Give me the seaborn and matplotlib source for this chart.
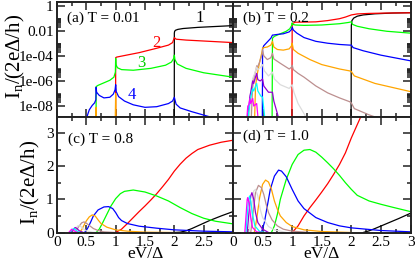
import numpy as np
import matplotlib
matplotlib.use('Agg')
import matplotlib.pyplot as plt
import seaborn as sns
from matplotlib.ticker import FixedLocator, MultipleLocator, NullFormatter, FixedFormatter

# xmgrace-like palette, order n = 1..10
colors = ['#000000', '#ff0000', '#00ff00', '#0000ff', '#ffa500',
          '#bc8f8f', '#dcdcdc', '#9400d3', '#00ffff', '#ff00ff']

# ---------------- (a) T = 0.01, values as log10(I_n)
a1_x = [0, 1.999, 2.0, 2.005, 2.02, 2.06, 2.15, 2.4, 2.7, 3.0]
a1_y = [-10, -10, -2.2, -2.05, -1.97, -1.9, -1.83, -1.74, -1.67, -1.6]
a2_x = [0.999, 1.0, 1.02, 1.4, 1.7, 1.9, 1.97, 2.0, 2.03, 2.2, 2.6, 3.0]
a2_y = [-10, -4.15, -4.1, -3.75, -3.4, -3.15, -2.95, -2.55, -2.68, -2.75, -2.85, -2.95]
a3_x = [0.666, 0.667, 0.7, 0.8, 0.9, 0.97, 0.995, 1.0, 1.005, 1.03, 1.1, 1.3, 1.6, 1.85, 1.95, 1.99, 2.0,
        2.01, 2.05, 2.2, 2.5, 3.0]
a3_y = [-10, -6.45, -6.35, -6.15, -5.95, -5.7, -5.3, -4.2, -4.7, -4.95, -5.1, -5.15, -5.0, -4.75, -4.5, -4.2,
        -3.95, -4.3, -4.65, -5.0, -5.35, -5.7]
a4_x = [0.46, 0.5, 0.55, 0.6, 0.64, 0.662, 0.667, 0.675, 0.72, 0.8, 0.9, 0.96, 0.99, 1.0, 1.01, 1.05, 1.15,
        1.3, 1.5, 1.7, 1.9, 1.97, 2.0, 2.03, 2.1, 2.3, 2.6, 3.0]
a4_y = [-10, -9.0, -8.3, -7.95, -7.75, -7.5, -6.5, -6.9, -7.15, -7.35, -7.3, -7.05, -6.7, -6.3, -6.85, -7.25,
        -7.6, -7.9, -8.1, -8.05, -7.8, -7.6, -7.3, -7.85, -8.15, -8.45, -8.85, -9.2]
a5_x = [0.66, 0.667, 0.675, 0.99, 1.0, 1.01]
a5_y = [-10, -8.1, -10, -10, -7.0, -10]

# ---------------- (b) T = 0.2, values as log10(I_n)
b1_x = [1.995, 2.0, 2.01, 2.04, 2.1, 2.2, 2.4, 2.7, 3.0]
b1_y = [-10, -1.6, -1.2, -1.0, -0.85, -0.75, -0.66, -0.6, -0.57]
b2_x = [0.995, 1.0, 1.01, 1.05, 1.2, 1.4, 1.6, 1.8, 1.9, 2.0, 2.1, 2.3, 2.6, 3.0]
b2_y = [-10, -1.6, -1.42, -1.33, -1.32, -1.3, -1.2, -1.05, -0.92, -0.75, -0.67, -0.63, -0.6, -0.58]
b3_x = [0.66, 0.667, 0.7, 0.8, 0.9, 0.96, 0.99, 1.0, 1.01, 1.05, 1.2, 1.5, 1.8, 1.95, 2.0, 2.02, 2.1, 2.3,
        2.6, 3.0]
b3_y = [-10, -2.6, -2.45, -2.25, -2.05, -1.85, -1.6, -1.38, -1.5, -1.55, -1.58, -1.55, -1.45, -1.35, -1.3,
        -1.5, -1.65, -1.85, -2.05, -2.2]
b4_x = [0.495, 0.5, 0.52, 0.56, 0.6, 0.64, 0.667, 0.68, 0.75, 0.85, 0.95, 0.99, 1.0, 1.02, 1.08, 1.2, 1.4,
        1.6, 1.8, 1.97, 2.0, 2.03, 2.2, 2.5, 3.0]
b4_y = [-10, -3.45, -3.2, -3.0, -2.8, -2.6, -2.35, -2.35, -2.3, -2.25, -2.1, -1.9, -1.72, -1.95, -2.2, -2.55,
        -2.85, -3.0, -3.1, -3.15, -3.15, -3.35, -3.6, -3.95, -4.4]
b5_x = [0.36, 0.38, 0.4, 0.45, 0.49, 0.5, 0.52, 0.58, 0.64, 0.667, 0.69, 0.75, 0.85, 0.95, 0.99, 1.0, 1.02,
        1.1, 1.3, 1.5, 1.8, 1.97, 2.0, 2.05, 2.4, 3.0]
b5_y = [-10, -6.5, -5.7, -4.5, -3.7, -3.4, -3.35, -3.3, -3.15, -2.85, -3.3, -3.5, -3.55, -3.45, -3.2, -3.0,
        -3.5, -3.8, -4.3, -4.7, -5.05, -5.2, -5.25, -5.6, -6.2, -6.85]
b6_x = [0.3, 0.33, 0.36, 0.39, 0.4, 0.41, 0.45, 0.49, 0.5, 0.52, 0.58, 0.64, 0.667, 0.69, 0.8, 0.95, 0.99,
        1.0, 1.02, 1.1, 1.2, 1.4, 1.6, 1.8, 1.97, 2.0, 2.05, 2.3, 2.6]
b6_y = [-10, -6.6, -5.6, -5.1, -4.8, -4.95, -4.5, -3.9, -3.55, -4.0, -4.3, -4.15, -3.8, -4.25, -4.6, -5.05,
        -4.9, -4.75, -5.1, -5.4, -5.7, -6.4, -6.95, -7.35, -7.65, -7.75, -8.2, -8.7, -9.2]
b7_x = [0.27, 0.29, 0.31, 0.333, 0.36, 0.4, 0.42, 0.46, 0.5, 0.53, 0.6, 0.667, 0.7, 0.8, 0.95, 1.0, 1.03,
        1.1, 1.2, 1.3]
b7_y = [-10, -7.5, -6.5, -5.8, -5.5, -4.9, -5.1, -4.95, -4.7, -5.2, -5.6, -5.3, -5.85, -6.3, -6.6, -6.3,
        -6.9, -7.8, -8.6, -9.5]
b8_x = [0.24, 0.26, 0.286, 0.3, 0.333, 0.35, 0.38, 0.4, 0.42, 0.46, 0.5, 0.52, 0.6, 0.667, 0.69, 0.75, 0.8]
b8_y = [-10, -8.5, -7.2, -6.9, -6.0, -6.2, -5.7, -5.4, -5.9, -6.0, -5.85, -6.4, -6.9, -6.9, -7.6, -8.6, -9.5]
b9_x = [0.24, 0.27, 0.286, 0.3, 0.333, 0.35, 0.4, 0.42, 0.47, 0.5, 0.52, 0.55]
b9_y = [-10, -8.3, -7.6, -7.3, -6.6, -6.8, -6.2, -6.8, -7.2, -7.3, -8.2, -9.5]
b10_x = [0.22, 0.24, 0.25, 0.27, 0.286, 0.3, 0.333, 0.35, 0.4, 0.42, 0.45]
b10_y = [-10, -8.6, -8.0, -7.9, -7.4, -7.8, -7.4, -8.0, -7.8, -8.8, -9.8]

# ---------------- (c) T = 0.8
c1_x = [2.0, 2.1, 2.2, 2.3, 2.4, 2.6, 2.8, 3.0]
c1_y = [0, 0.01, 0.05, 0.12, 0.2, 0.36, 0.5, 0.63]
c2_x = [1.0, 1.1, 1.2, 1.3, 1.4, 1.5, 1.6, 1.7, 1.8, 1.9, 2.0, 2.1, 2.2, 2.3, 2.4, 2.6, 2.8, 3.0]
c2_y = [0, 0.1, 0.27, 0.45, 0.63, 0.8, 0.98, 1.17, 1.38, 1.6, 1.85, 2.06, 2.24, 2.38, 2.5, 2.63, 2.72, 2.78]
c3_x = [0.667, 0.72, 0.78, 0.85, 0.92, 1.0, 1.08, 1.15, 1.3, 1.5, 1.7, 1.9, 2.1, 2.3, 2.5, 2.7, 3.0]
c3_y = [0, 0.1, 0.3, 0.55, 0.8, 1.02, 1.17, 1.24, 1.28, 1.22, 1.1, 0.95, 0.75, 0.57, 0.43, 0.34, 0.26]
c4_x = [0.47, 0.52, 0.57, 0.62, 0.7, 0.8, 0.88, 0.95, 1.0, 1.05, 1.1, 1.2, 1.4, 1.7, 2.0, 2.5, 3.0]
c4_y = [0, 0.12, 0.3, 0.5, 0.68, 0.77, 0.78, 0.72, 0.6, 0.45, 0.36, 0.27, 0.19, 0.13, 0.08, 0.04, 0.02]
c5_x = [0.38, 0.42, 0.46, 0.5, 0.55, 0.6, 0.65, 0.7, 0.75, 0.85, 1.0, 1.2, 1.5, 2.0]
c5_y = [0, 0.08, 0.22, 0.35, 0.47, 0.53, 0.5, 0.38, 0.27, 0.16, 0.08, 0.04, 0.01, 0]
c6_x = [0.31, 0.36, 0.42, 0.46, 0.5, 0.56, 0.62, 0.7, 0.8, 1.0]
c6_y = [0, 0.15, 0.29, 0.32, 0.28, 0.2, 0.12, 0.06, 0.02, 0]
c7_x = [0.27, 0.32, 0.36, 0.4, 0.45, 0.5, 0.6, 0.7]
c7_y = [0, 0.12, 0.21, 0.19, 0.11, 0.05, 0.01, 0]
c8_x = [0.24, 0.28, 0.31, 0.34, 0.38, 0.45]
c8_y = [0, 0.1, 0.15, 0.12, 0.05, 0]
c9_x = [0.22, 0.25, 0.28, 0.31, 0.35, 0.4]
c9_y = [0, 0.07, 0.12, 0.09, 0.03, 0]
c10_x = [0.2, 0.23, 0.25, 0.28, 0.32, 0.36]
c10_y = [0, 0.06, 0.1, 0.06, 0.02, 0]

# ---------------- (d) T = 1.0
d1_x = [2.2, 2.3, 2.4, 2.6, 2.8, 3.0]
d1_y = [0, 0.05, 0.12, 0.27, 0.42, 0.58]
d2_x = [1.0, 1.1, 1.2, 1.3, 1.4, 1.5, 1.6, 1.7, 1.8, 1.9, 2.0, 2.1, 2.2]
d2_y = [0, 0.2, 0.5, 0.75, 0.98, 1.22, 1.47, 1.75, 2.05, 2.4, 2.85, 3.25, 3.65]
d3_x = [0.65, 0.7, 0.75, 0.8, 0.9, 1.0, 1.1, 1.2, 1.3, 1.4, 1.5, 1.6, 1.7, 1.8, 1.9, 2.0, 2.1, 2.3, 2.5,
        2.7, 3.0]
d3_y = [0, 0.2, 0.55, 1.0, 1.6, 2.05, 2.35, 2.48, 2.5, 2.42, 2.27, 2.1, 1.92, 1.72, 1.5, 1.3, 1.12, 0.95,
        0.85, 0.76, 0.63]
d4_x = [0.48, 0.53, 0.58, 0.63, 0.7, 0.77, 0.82, 0.9, 1.0, 1.1, 1.2, 1.4, 1.6, 1.8, 2.0, 2.5, 3.0]
d4_y = [0, 0.3, 0.8, 1.3, 1.7, 1.88, 1.85, 1.68, 1.3, 0.95, 0.72, 0.45, 0.3, 0.2, 0.14, 0.06, 0.02]
d5_x = [0.36, 0.4, 0.45, 0.5, 0.55, 0.6, 0.65, 0.7, 0.75, 0.8, 0.9, 1.0, 1.2, 1.5, 2.0]
d5_y = [0, 0.4, 1.05, 1.45, 1.58, 1.52, 1.3, 0.95, 0.7, 0.5, 0.3, 0.18, 0.08, 0.03, 0]
d6_x = [0.3, 0.34, 0.38, 0.43, 0.48, 0.52, 0.56, 0.6, 0.66, 0.75, 0.85, 1.0, 1.3]
d6_y = [0, 0.6, 1.2, 1.42, 1.35, 1.15, 0.85, 0.6, 0.38, 0.2, 0.1, 0.04, 0]
d7_x = [0.27, 0.31, 0.35, 0.38, 0.42, 0.46, 0.5, 0.6, 0.7, 0.9]
d7_y = [0, 0.7, 1.25, 1.3, 1.1, 0.7, 0.45, 0.18, 0.08, 0]
d8_x = [0.24, 0.27, 0.3, 0.32, 0.35, 0.38, 0.42, 0.5, 0.6]
d8_y = [0, 0.6, 1.1, 1.2, 1.0, 0.6, 0.3, 0.1, 0]
d9_x = [0.22, 0.24, 0.26, 0.28, 0.3, 0.33, 0.37, 0.45, 0.55]
d9_y = [0, 0.5, 0.95, 1.1, 0.95, 0.55, 0.2, 0.03, 0]
d10_x = [0.2, 0.22, 0.24, 0.25, 0.27, 0.3, 0.33, 0.4, 0.5]
d10_y = [0, 0.5, 1.0, 1.05, 0.9, 0.45, 0.15, 0.02, 0]

log_ticks = [1, 1e-2, 1e-4, 1e-6, 1e-8]
log_tick_labels = ['1', '0.01', '1e-04', '1e-06', '1e-08']
x_ticks = [0, 0.5, 1, 1.5, 2, 2.5, 3]
c_x_labels = ['0', '0.5', '1', '1.5', '2', '2.5', '']
d_x_labels = ['0', '0.5', '1', '1.5', '2', '2.5', '3']
lin_ticks = [0, 1, 2, 3]
lin_tick_labels = ['0', '1', '2', '3']

sns.set_style('ticks')
plt.rcParams['font.family'] = ['Liberation Serif', 'DejaVu Serif']
plt.rcParams['mathtext.fontset'] = 'custom'
plt.rcParams['mathtext.rm'] = 'Liberation Serif'
for key in ('text.color', 'axes.labelcolor', 'xtick.color', 'ytick.color'):
    plt.rcParams[key] = 'black'

W, H = 415, 265
fig = plt.figure(figsize=(W / 100, H / 100), dpi=100)
ax_a = fig.add_axes([57 / W, 1 - 117 / H, 176 / W, 115 / H])
ax_b = fig.add_axes([233 / W, 1 - 117 / H, 177.5 / W, 115 / H])
ax_c = fig.add_axes([57 / W, 1 - 232.5 / H, 176 / W, 115.5 / H])
ax_d = fig.add_axes([233 / W, 1 - 232.5 / H, 177.5 / W, 115.5 / H])


def draw(ax, xs, ys, color, logy=False):
    ys = 10.0 ** np.array(ys) if logy else ys
    sns.lineplot(x=xs, y=ys, color=color, lw=0.9, estimator=None, sort=False, ax=ax)


a_curves = [(a1_x, a1_y), (a2_x, a2_y), (a3_x, a3_y), (a4_x, a4_y), (a5_x, a5_y)]
b_curves = [(b1_x, b1_y), (b2_x, b2_y), (b3_x, b3_y), (b4_x, b4_y), (b5_x, b5_y),
            (b6_x, b6_y), (b7_x, b7_y), (b8_x, b8_y), (b9_x, b9_y), (b10_x, b10_y)]
c_curves = [(c1_x, c1_y), (c2_x, c2_y), (c3_x, c3_y), (c4_x, c4_y), (c5_x, c5_y),
            (c6_x, c6_y), (c7_x, c7_y), (c8_x, c8_y), (c9_x, c9_y), (c10_x, c10_y)]
d_curves = [(d1_x, d1_y), (d2_x, d2_y), (d3_x, d3_y), (d4_x, d4_y), (d5_x, d5_y),
            (d6_x, d6_y), (d7_x, d7_y), (d8_x, d8_y), (d9_x, d9_y), (d10_x, d10_y)]

for i, (xs, ys) in enumerate(a_curves):
    draw(ax_a, xs, ys, colors[i], logy=True)
for i, (xs, ys) in enumerate(b_curves):
    draw(ax_b, xs, ys, colors[i], logy=True)
for i, (xs, ys) in enumerate(c_curves):
    draw(ax_c, xs, ys, colors[i])
for i, (xs, ys) in enumerate(d_curves):
    draw(ax_d, xs, ys, colors[i])

# minor log ticks only in the labelled decades (2..9 x 10^-2k)
log_minor = [k * 10.0 ** e for e in range(-10, 1, 2) for k in range(2, 10)]

for ax in (ax_a, ax_b):
    ax.set_yscale('log')
    ax.set_ylim(1.35e-9, 1.9)
    ax.yaxis.set_major_locator(FixedLocator(log_ticks))
    ax.yaxis.set_minor_locator(FixedLocator(log_minor))
    ax.yaxis.set_minor_formatter(NullFormatter())
for ax in (ax_c, ax_d):
    ax.set_ylim(0, 3.48)
    ax.yaxis.set_major_locator(FixedLocator(lin_ticks))
    ax.yaxis.set_minor_locator(MultipleLocator(0.5))

for ax in (ax_a, ax_b, ax_c, ax_d):
    ax.set_xlim(0, 3)
    ax.xaxis.set_major_locator(FixedLocator(x_ticks))
    ax.xaxis.set_minor_locator(MultipleLocator(0.25))
    ax.tick_params(which='both', direction='in', top=True, right=True,
                   width=1.1, color='#222222', labelsize=11, pad=2.5)
    ax.tick_params(which='major', length=5.5)
    ax.tick_params(which='minor', length=3)
    for s in ax.spines.values():
        s.set_linewidth(1.4)
        s.set_color('#222222')
    ax.set_xlabel('')
    ax.set_ylabel('')

ax_a.yaxis.set_major_formatter(FixedFormatter(log_tick_labels))
ax_a.tick_params(labelbottom=False)
ax_b.tick_params(labelbottom=False, labelleft=False)
ax_c.yaxis.set_major_formatter(FixedFormatter(lin_tick_labels))
ax_c.xaxis.set_major_formatter(FixedFormatter(c_x_labels))
ax_d.xaxis.set_major_formatter(FixedFormatter(d_x_labels))
ax_d.tick_params(labelleft=False)

ylab = 'I$_\\mathregular{n}$/(2eΔ/h)'
ax_a.set_ylabel(ylab, fontsize=15)
ax_a.yaxis.set_label_coords(-0.17, 0.53)
ax_c.set_ylabel(ylab, fontsize=15)
ax_c.yaxis.set_label_coords(-0.085, 0.43)
for ax in (ax_c, ax_d):
    ax.set_xlabel('eV/Δ', fontsize=12.5)
    ax.xaxis.set_label_coords(0.5, -0.115)

ax_a.text(0.055, 0.86, '(a) T = 0.01', transform=ax_a.transAxes, fontsize=11, va='center')
ax_b.text(0.057, 0.86, '(b) T = 0.2', transform=ax_b.transAxes, fontsize=11, va='center')
ax_c.text(0.06, 0.81, '(c) T = 0.8', transform=ax_c.transAxes, fontsize=11, va='center')
ax_d.text(0.057, 0.83, '(d) T = 1.0', transform=ax_d.transAxes, fontsize=11, va='center')

ax_a.text(2.44, 1e-1, '1', color=colors[0], fontsize=12, ha='center', va='center')
ax_a.text(1.70, 1e-3, '2', color=colors[1], fontsize=12, ha='center', va='center')
ax_a.text(1.43, 10 ** -4.6, '3', color='#00cc00', fontsize=12, ha='center', va='center')
ax_a.text(1.27, 10 ** -7.1, '4', color=colors[3], fontsize=12, ha='center', va='center')

fig.savefig('out.png', dpi=100)
